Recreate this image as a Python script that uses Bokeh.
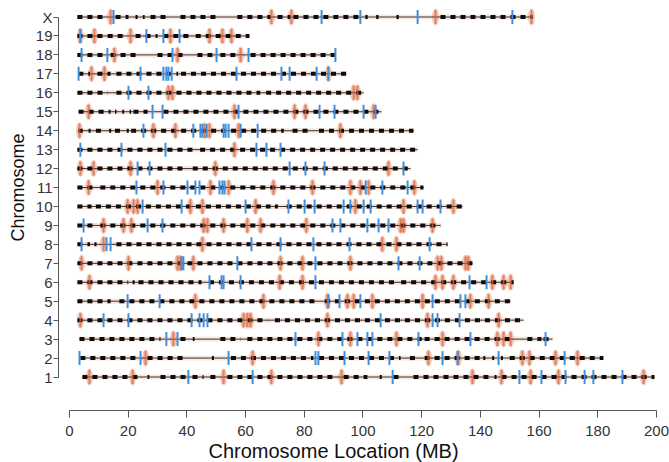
import math
from bokeh.plotting import figure
from bokeh.models import Range1d, FixedTicker, ColumnDataSource, Label
from bokeh.core.properties import value
from bokeh.embed import file_html
from bokeh.resources import INLINE

# ---------------- data (positions in MB) ----------------
chrom_labels = ["1", "2", "3", "4", "5", "6", "7", "8", "9", "10",
                "11", "12", "13", "14", "15", "16", "17", "18", "19", "X"]
chrom_start = [4.4, 3.4, 3.4, 2.7, 2.7, 2.7, 2.7, 2.7, 2.7, 2.7,
               2.7, 2.7, 2.7, 3.0, 3.1, 2.7, 3.0, 2.7, 2.7, 2.7]
chrom_end = [199.3, 181.9, 164.6, 154.7, 150.3, 151.3, 137.3, 128.8, 126.4, 133.9,
             120.6, 116.2, 118.6, 117.2, 106.3, 100.2, 94.4, 90.6, 61.3, 157.8]

red_c1 = [6.8, 21.5, 52.5, 68.8, 92.7, 137.3, 147.2, 157.1, 166.6, 195.6]
blue_c1 = [40.5, 62.4, 110.1, 153.3, 160.8, 169.0, 175.5, 178.5, 188.4]
dots_c1 = [(4.4, 24.2), (26.6, 27.2), (31, 40.2), (41.9, 45.7), (48, 51.4), (53.8, 91.3),
           (93.4, 101.5), (105.7, 106.4), (110.4, 113.8), (117.2, 144.1), (144.8, 145.5),
           (147.2, 199.3)]

red_c2 = [25.9, 62.4, 122.3, 132.5, 154.3, 156.7, 165.6, 173.1]
blue_c2 = [3.4, 24.2, 54.2, 83.8, 84.8, 93.7, 101.9, 109.0, 127.1, 132.2, 146.2, 168.7]
dots_c2 = [(3.7, 23.2), (26.6, 40.2), (48.5, 49.2), (55, 83.1), (85, 112.8), (116, 119),
           (121, 140), (141, 141.7), (144, 144.7), (147, 147.7), (150, 181.9)]

red_c3 = [35.4, 84.8, 95.7, 111.4, 127.1, 145.8, 147.9, 150.3]
blue_c3 = [33.0, 36.8, 77.0, 93.0, 98.1, 101.5, 103.2, 118.9, 136.6, 162.2]
dots_c3 = [(3.4, 13.3), (13.6, 31), (37.8, 40.2), (42, 42.6), (51.4, 58.3), (60.6, 120),
           (121, 151), (156, 160.8), (161.5, 164.6)]

red_c4 = [3.7, 59.3, 60.6, 61.7, 87.9, 122.0, 146.2]
blue_c4 = [11.6, 20.1, 41.6, 44.3, 45.7, 47.0, 106.0, 123.7, 125.4, 132.9]
dots_c4 = [(2.7, 67.5), (70, 154.7)]

red_c5 = [42.9, 66.1, 87.9, 94.7, 96.8, 103.2, 120.3, 136.6, 142.8]
blue_c5 = [19.8, 30.7, 88.2, 92.0, 99.1, 123.7, 133.2, 134.9]
dots_c5 = [(2.7, 14), (17, 84.5), (87, 150.3)]

red_c6 = [6.8, 71.6, 79.4, 124.7, 127.1, 130.8, 144.1, 147.9, 150.3]
blue_c6 = [47.7, 51.8, 52.5, 58.3, 83.8, 136.3, 142.1]
dots_c6 = [(2.7, 20), (21.5, 22.2), (23.5, 45), (47.5, 111), (113, 151.3)]

red_c7 = [4.1, 20.1, 36.8, 37.8, 42.2, 71.9, 79.4, 95.7, 125.4, 126.7, 134.9, 135.9]
blue_c7 = [38.2, 38.8, 57.2, 83.8, 112.1, 119.3]
dots_c7 = [(2.7, 137.3)]

red_c8 = [11.6, 45.3, 106.6, 111.4]
blue_c8 = [4.1, 12.6, 14.0, 62.0, 71.9, 83.1, 95.4, 122.7]
dots_c8 = [(2.7, 7), (8.5, 9.2), (16, 128.8)]

red_c9 = [11.6, 18.4, 21.1, 45.7, 47.0, 52.5, 60.6, 65.1, 80.7, 112.8, 113.8, 123.7]
blue_c9 = [4.8, 26.6, 31.7, 89.6, 92.3, 101.5, 105.3, 108.7]
dots_c9 = [(2.7, 9), (10.5, 126.4)]

red_c10 = [19.8, 21.8, 23.2, 41.2, 45.3, 63.4, 97.4, 113.8, 130.8]
blue_c10 = [24.9, 38.2, 60.0, 74.6, 80.1, 83.5, 93.4, 95.7, 100.2, 102.6, 118.6, 120.3, 126.4]
dots_c10 = [(2.7, 7.5), (9, 68.5), (70, 71), (74, 133.9)]

red_c11 = [6.5, 30.0, 48.0, 54.2, 69.5, 82.8, 95.7, 99.1, 101.9, 117.5]
blue_c11 = [22.8, 32.0, 40.2, 42.9, 44.3, 51.1, 52.1, 52.8, 100.9, 106.6, 115.2]
dots_c11 = [(2.7, 9), (10.5, 120.6)]

red_c12 = [3.7, 8.2, 20.8, 49.7, 108.7]
blue_c12 = [23.2, 27.3, 75.0, 80.4, 86.9, 113.8]
dots_c12 = [(2.7, 39), (42, 116.2)]

red_c13 = [56.2]
blue_c13 = [3.7, 17.7, 32.7, 63.7, 67.1, 71.9]
dots_c13 = [(2.7, 42), (44.5, 118.6)]

red_c14 = [3.4, 28.6, 36.1, 46.0, 47.7, 57.6, 92.3]
blue_c14 = [25.2, 42.2, 44.6, 45.3, 46.7, 52.5, 53.2, 54.2, 58.3, 64.1]
dots_c14 = [(3, 4.5), (6.5, 7.2), (9, 12), (13.5, 14.2), (15.5, 18), (19.5, 20.2),
            (21, 73), (76, 82), (85, 117.2)]

red_c15 = [6.5, 56.2, 76.7, 80.4, 103.6]
blue_c15 = [28.3, 31.7, 57.6, 85.2, 90.3, 100.2, 104.3]
dots_c15 = [(3.1, 14), (15.5, 16), (18, 18.6), (20.5, 21), (21.8, 26.6), (32, 106.3)]

red_c16 = [33.7, 35.1, 96.8, 98.1]
blue_c16 = [20.1, 26.9]
dots_c16 = [(2.7, 13), (16, 65), (67, 100.2)]

red_c17 = [7.5, 11.9, 88.2]
blue_c17 = [3.1, 24.2, 32.0, 33.0, 33.7, 34.8, 56.9, 72.2, 75.0, 84.2, 88.2]
dots_c17 = [(3, 7), (9.5, 14), (16, 37), (38, 94.4)]

red_c18 = [15.3, 36.8, 58.3]
blue_c18 = [4.1, 12.9, 35.1, 50.1, 61.0, 90.6]
dots_c18 = [(2.7, 11.6), (14, 16.4), (17.4, 24.2), (30, 40.2), (43.6, 50), (51.4, 57.9),
            (61.7, 90.6)]

red_c19 = [3.7, 8.5, 20.8, 34.4, 47.7, 52.1, 55.2]
blue_c19 = [3.7, 26.2, 32.0, 37.5]
dots_c19 = [(2.7, 11.6), (13, 19.5), (22.5, 30), (32, 41), (43, 61.3)]

red_cX = [14.0, 68.8, 75.6, 124.7, 157.4]
blue_cX = [15.0, 85.9, 99.1, 118.6, 150.9]
dots_cX = [(2.7, 11.6), (15.7, 20.1), (22.5, 23.2), (25, 25.6), (27.6, 33.4), (37.8, 51.4),
           (57.2, 68.5), (70.9, 75.3), (76.3, 85.5), (86.5, 98.5), (100.8, 101.6),
           (104.5, 105.3), (111.4, 112.2), (126.4, 157.8)]

x_ticks = [0, 20, 40, 60, 80, 100, 120, 140, 160, 180, 200]
x_title = "Chromosome Location (MB)"
y_title = "Chromosome"

red_all = [red_c1, red_c2, red_c3, red_c4, red_c5, red_c6, red_c7, red_c8, red_c9, red_c10,
           red_c11, red_c12, red_c13, red_c14, red_c15, red_c16, red_c17, red_c18, red_c19, red_cX]
blue_all = [blue_c1, blue_c2, blue_c3, blue_c4, blue_c5, blue_c6, blue_c7, blue_c8, blue_c9, blue_c10,
            blue_c11, blue_c12, blue_c13, blue_c14, blue_c15, blue_c16, blue_c17, blue_c18, blue_c19, blue_cX]
dots_all = [dots_c1, dots_c2, dots_c3, dots_c4, dots_c5, dots_c6, dots_c7, dots_c8, dots_c9, dots_c10,
            dots_c11, dots_c12, dots_c13, dots_c14, dots_c15, dots_c16, dots_c17, dots_c18, dots_c19, dots_cX]

# ---------------- assemble sources ----------------
row_y = list(range(1, len(chrom_labels) + 1))

line_src = ColumnDataSource(dict(x0=chrom_start, x1=chrom_end, y=row_y))

dx0, dx1, dy = [], [], []
rx, ry = [], []
bx, by = [], []
for yv, reds, blues, dots in zip(row_y, red_all, blue_all, dots_all):
    for a, b in dots:
        dx0.append(a); dx1.append(b); dy.append(yv)
    for r in reds:
        rx.append(r); ry.append(yv)
    for b in blues:
        bx.append(b); by.append(yv)

dot_src = ColumnDataSource(dict(x0=dx0, x1=dx1, y=dy))
red_src = ColumnDataSource(dict(x=rx, y=ry))
blue_src = ColumnDataSource(dict(x=bx, y=by))

# ---------------- figure ----------------
# The frame fills the whole canvas; axes sit at fixed data locations (detached axes).
X_AXIS_AT = -0.768   # y value where the bottom axis is drawn
Y_AXIS_AT = -3.748   # x value where the left axis is drawn

p = figure(width=669, height=462, output_backend="svg", toolbar_location=None,
           x_range=Range1d(-23.51, 204.43), y_range=Range1d(-3.512, 20.871),
           min_border_left=0, min_border_right=0, min_border_top=0, min_border_bottom=0)
p.outline_line_color = None
p.xgrid.grid_line_color = None
p.ygrid.grid_line_color = None
p.background_fill_color = "white"

FONT = "Liberation Sans"
axis_col = "#555555"
lab_col = "#333333"

# y axis
p.yaxis.fixed_location = Y_AXIS_AT
p.yaxis.ticker = FixedTicker(ticks=row_y)
p.yaxis.major_label_overrides = {i: lab for i, lab in zip(row_y, chrom_labels)}
p.yaxis.bounds = (1, 20)
p.yaxis.major_label_text_font = FONT
p.yaxis.major_label_text_font_size = "15px"
p.yaxis.major_label_text_color = lab_col
p.yaxis.major_label_standoff = 1
p.yaxis.major_tick_out = 5
p.yaxis.major_tick_in = 0
p.yaxis.minor_tick_line_color = None
p.yaxis.axis_line_color = axis_col
p.yaxis.major_tick_line_color = axis_col

# x axis
p.xaxis.fixed_location = X_AXIS_AT
p.xaxis.ticker = FixedTicker(ticks=x_ticks)
p.xaxis.bounds = (0, 200)
p.xaxis.major_label_text_font = FONT
p.xaxis.major_label_text_font_size = "15px"
p.xaxis.major_label_text_color = lab_col
p.xaxis.major_label_standoff = 8
p.xaxis.major_tick_out = 7
p.xaxis.major_tick_in = 0
p.xaxis.minor_tick_line_color = None
p.xaxis.axis_line_color = axis_col
p.xaxis.major_tick_line_color = axis_col

# axis titles
p.add_layout(Label(x=89.95, y=-2.93, text=x_title, text_align="center", text_baseline="middle",
                   text_font=FONT, text_font_size="20px", text_color="#111111"))
p.add_layout(Label(x=-17.7, y=11.0, text=y_title, angle=math.pi / 2, text_align="center",
                   text_baseline="middle", text_font=FONT, text_font_size="18px",
                   text_color="#111111"))

# glyphs
p.ellipse(x="x", y="y", width=7, height=17, width_units="screen", height_units="screen",
          source=red_src, fill_color="#ec9a7c", fill_alpha=0.55, line_color=None)
p.segment(x0="x0", y0="y", x1="x1", y1="y", source=line_src,
          line_color="#f0b8a0", line_width=5, line_alpha=0.35)
p.segment(x0="x0", y0="y", x1="x1", y1="y", source=line_src,
          line_color="#333333", line_width=1)
p.segment(x0="x0", y0="y", x1="x1", y1="y", source=dot_src,
          line_color="#0d0d0d", line_width=4, line_dash=value("5 1.2"))
p.scatter(x="x", y="y", source=red_src, marker="dash", angle=math.pi / 2, size=14,
          line_color="#d8653f", line_width=2, line_alpha=0.75)
p.scatter(x="x", y="y", source=blue_src, marker="dash", angle=math.pi / 2, size=14,
          line_color="#3f8fe0", line_width=2)

open("out.html", "w").write(file_html(p, INLINE))
